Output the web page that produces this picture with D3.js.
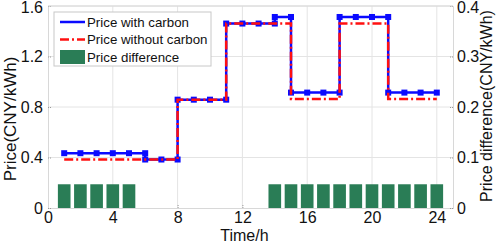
<!DOCTYPE html>
<html>
<head>
<meta charset="utf-8">
<script src="https://cdn.jsdelivr.net/npm/d3@7"></script>
<style>
    body { margin: 0; background: #fff; }
    svg text { font-family: "Liberation Sans", Arial, sans-serif; fill: #111; }
    .grid line { stroke: #e4e4e4; stroke-width: 1; }
</style>
</head>
<body>
<svg id="svg"></svg>
<script>
// step vertices of each price curve (hour, CNY/kWh)
const hoursWith  = [1, 2, 3, 4, 5, 6, 6, 7, 8, 8, 9, 10, 11, 11, 12, 13, 14, 14, 15, 15, 16, 17, 18, 18, 19, 20, 21, 21, 22, 23, 24];
const priceWith  = [0.434, 0.434, 0.434, 0.434, 0.434, 0.434, 0.384, 0.384, 0.384, 0.858, 0.858, 0.858, 0.858, 1.461, 1.461, 1.461, 1.461, 1.513, 1.513, 0.914, 0.914, 0.914, 0.914, 1.513, 1.513, 1.513, 1.513, 0.914, 0.914, 0.914, 0.914];
const hoursWithout = [1, 8, 8, 11, 11, 15, 15, 18, 18, 21, 21, 24];
const priceWithout = [0.384, 0.384, 0.858, 0.858, 1.461, 1.461, 0.864, 0.864, 1.461, 1.461, 0.864, 0.864];
// price difference bars (right axis)
const diffHours = [1, 2, 3, 4, 5, 14, 15, 16, 17, 18, 19, 20, 21, 22, 23, 24];
const diffValues = [0.047, 0.047, 0.047, 0.047, 0.047, 0.047, 0.047, 0.047, 0.047, 0.047, 0.047, 0.047, 0.047, 0.047, 0.047, 0.047];

const xTicks = [0, 4, 8, 12, 16, 20, 24];
const yTicks = [0, 0.4, 0.8, 1.2, 1.6];
const y2Ticks = [0, 0.1, 0.2, 0.3, 0.4];

const width = 498, height = 244;
const margin = {top: 6, left: 48, right: 45, bottom: 36};
const w = width - margin.left - margin.right;
const h = height - margin.top - margin.bottom;

const svg = d3.select('#svg').attr('width', width).attr('height', height);
const g = svg.append('g').attr('transform', 'translate(' + margin.left + ',' + margin.top + ')');

const x = d3.scaleLinear().domain([0, 25]).range([0, w]);
const y = d3.scaleLinear().domain([0, 1.6]).range([h, 0]);
const y2 = d3.scaleLinear().domain([0, 0.4]).range([h, 0]);

// grid
g.append('g').attr('class', 'grid')
    .selectAll('line').data(xTicks.slice(1)).enter().append('line')
    .attr('x1', d => x(d)).attr('x2', d => x(d)).attr('y1', 0).attr('y2', h);
g.append('g').attr('class', 'grid')
    .selectAll('line').data(yTicks.slice(1)).enter().append('line')
    .attr('x1', 0).attr('x2', w).attr('y1', d => y(d)).attr('y2', d => y(d));

// axes
const fmt = d => d === 0 ? '0' : d3.format('.1f')(d);
const xAxis = d3.axisBottom(x).tickValues(xTicks).tickSize(-3).tickPadding(4).tickFormat(d3.format('d'));
const yAxis = d3.axisLeft(y).tickValues(yTicks).tickSize(-3).tickPadding(5).tickFormat(fmt);
const y2Axis = d3.axisRight(y2).tickValues(y2Ticks).tickSize(-3).tickPadding(4).tickFormat(fmt);

function styleAxis(sel) {
    sel.select('.domain').attr('stroke', '#d8d8d8');
    sel.selectAll('.tick line').attr('stroke', '#999').attr('stroke-dasharray', '1,1');
    sel.selectAll('.tick text').style('font-size', '16px').attr('fill', '#111');
}

g.append('g').attr('transform', 'translate(0,' + h + ')').call(xAxis).call(styleAxis);
const gy = g.append('g').call(yAxis).call(styleAxis);
const gy2 = g.append('g').attr('transform', 'translate(' + w + ',0)').call(y2Axis).call(styleAxis);
// keep the top labels inside the window
gy.selectAll('.tick text').filter(d => d === 1.6).attr('dy', '0.42em');
gy2.selectAll('.tick text').filter(d => d === 0.4).attr('dy', '0.42em');
g.append('line').attr('x1', 0).attr('x2', w).attr('y1', 0).attr('y2', 0).attr('stroke', '#d8d8d8');

// bars
const barW = x(0.78) - x(0);
g.append('g').selectAll('rect').data(diffHours).enter().append('rect')
    .attr('x', d => x(d) - barW / 2)
    .attr('width', barW)
    .attr('y', (d, i) => y2(diffValues[i]))
    .attr('height', (d, i) => y2(0) - y2(diffValues[i]))
    .attr('fill', '#2a7d56');

// lines
const line = d3.line().x(d => x(d[0])).y(d => y(d[1]));
const withPts = hoursWith.map((d, i) => [d, priceWith[i]]);
const withoutPts = hoursWithout.map((d, i) => [d, priceWithout[i]]);

g.append('path').datum(withPts).attr('d', line)
    .attr('fill', 'none').attr('stroke', '#0a0aff').attr('stroke-width', 2.5);
g.selectAll('.mk').data(withPts).enter().append('rect')
    .attr('class', 'mk')
    .attr('x', d => x(d[0]) - 3).attr('y', d => y(d[1]) - 3)
    .attr('width', 6).attr('height', 6)
    .attr('fill', '#0a0aff');
g.append('path').datum(withoutPts).attr('d', line)
    .attr('fill', 'none').attr('stroke', '#ff1010').attr('stroke-width', 2.5)
    .attr('stroke-dasharray', '9,3,2,3');

// axis titles
svg.append('text').attr('x', margin.left + x(12) + 2).attr('y', 241)
    .attr('text-anchor', 'middle').style('font-size', '16px').text('Time/h');
svg.append('text').attr('transform', 'translate(16,' + 119 + ') rotate(-90)')
    .attr('text-anchor', 'middle').style('font-size', '17px').text('Price(CNY/kWh)');
svg.append('text').attr('transform', 'translate(492,' + 106 + ') rotate(-90)')
    .attr('text-anchor', 'middle').style('font-size', '16px').text('Price difference(CNY/kWh)');

// legend
const legend = g.append('g').attr('transform', 'translate(6,6)');
legend.append('rect').attr('width', 157).attr('height', 54)
    .attr('fill', '#fff').attr('stroke', '#c8c8c8');
const items = ['Price with carbon', 'Price without carbon', 'Price difference'];
items.forEach((name, i) => {
    const ly = 10 + i * 17.5;
    if (i === 0) {
        legend.append('line').attr('x1', 6).attr('x2', 31).attr('y1', ly).attr('y2', ly)
            .attr('stroke', '#0a0aff').attr('stroke-width', 2.5);
    } else if (i === 1) {
        legend.append('line').attr('x1', 6).attr('x2', 31).attr('y1', ly).attr('y2', ly)
            .attr('stroke', '#ff1010').attr('stroke-width', 2.5).attr('stroke-dasharray', '9,3,2,3');
    } else {
        legend.append('rect').attr('x', 6).attr('y', ly - 7).attr('width', 25).attr('height', 14)
            .attr('fill', '#2a7d56');
    }
    legend.append('text').attr('x', 33).attr('y', ly + 4.5).style('font-size', '13.3px').text(name);
});
</script>
</body>
</html>
